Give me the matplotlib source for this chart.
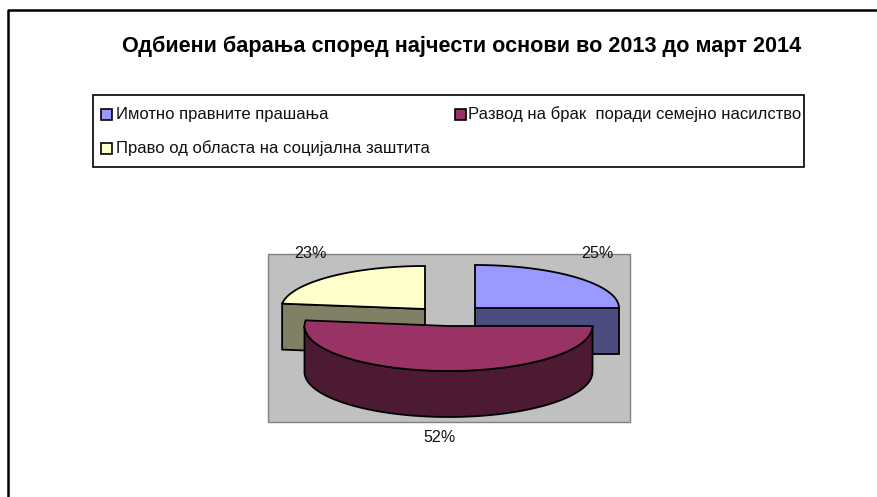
import numpy as np
import matplotlib
matplotlib.use('Agg')
import matplotlib.pyplot as plt
from matplotlib.patches import Polygon, Rectangle

plt.rcParams['font.family'] = ['Liberation Sans', 'DejaVu Sans']

title = 'Одбиени барања според најчести основи во 2013 до март 2014'
categories = ['Имотно правните прашања',
              'Развод на брак  поради семејно насилство',
              'Право од областа на социјална заштита']
values = [25, 52, 23]
labels = ['25%', '52%', '23%']
top_colors = ['#9999ff', '#993366', '#ffffcc']
side_colors = ['#4c4c80', '#4d1a33', '#808066']

# pixel layout of the slices (apex x, apex y, semi axes, depth)
apex = [(475, 308), (448.5, 326), (425, 309)]
rx = 144
ry = [43, 45, 43]
depth = 46


def arc(cx, cy, b, a0, a1):
    t = np.radians(np.linspace(a0, a1, 80))
    return np.column_stack([cx + rx * np.cos(t), cy - b * np.sin(t)])


def draw_slice(ax, i, a0, a1):
    cx, cy = apex[i]
    b = ry[i]
    rim = arc(cx, cy, b, a0, a1)
    shift = np.array([0, depth])
    # side faces first, then the top
    if i == 1:
        side = arc(cx, cy, b, a0, max(a1, -180))
    elif i == 0:
        side = np.array([(cx, cy), rim[-1]])
    else:
        side = np.array([rim[0], (cx, cy)])
    ax.add_patch(Polygon(np.vstack([side, (side + shift)[::-1]]), fc=side_colors[i], ec='black', lw=1.3))
    ax.add_patch(Polygon(np.vstack([[(cx, cy)], rim]), fc=top_colors[i], ec='black', lw=1.3))


def generate():
    fig = plt.figure(figsize=(8.77, 4.97), dpi=100)
    ax = fig.add_axes([0, 0, 1, 1])
    ax.set_xlim(0, 877)
    ax.set_ylim(497, 0)
    ax.axis('off')

    # outer frame, runs off the right and bottom edge
    ax.plot([8, 8, 877], [497, 10, 10], color='black', lw=1.8)

    ax.text(461.5, 46, title, fontsize=15.6, fontweight='bold', ha='center', va='center')

    # legend
    ax.add_patch(Rectangle((93, 95), 711, 72, fc='white', ec='black', lw=1.2))
    swatch_pos = [(101, 114), (455, 114), (101, 148)]
    text_x = [116, 468, 116]
    for name, color, (x, y), tx in zip(categories, top_colors, swatch_pos, text_x):
        ax.add_patch(Rectangle((x, y - 5.5), 10.5, 11, fc=color, ec='black', lw=1.2))
        ax.text(tx, y, name, fontsize=12, ha='left', va='center', color='#111111')

    # plot area
    ax.add_patch(Rectangle((268, 254), 362, 168, fc='#c0c0c0', ec='#808080', lw=1))

    # slices run clockwise from the top
    angles = 90 - np.cumsum([0] + values) * 3.6
    for i in [0, 2, 1]:
        draw_slice(ax, i, angles[i], angles[i + 1])

    label_pos = [(597, 253), (440, 437), (310, 253)]
    for text, (x, y) in zip(labels, label_pos):
        ax.text(x, y, text, fontsize=11.6, ha='center', va='center', color='#111111')

    fig.savefig('out.png', dpi=100)


if __name__ == "__main__":
    generate()
